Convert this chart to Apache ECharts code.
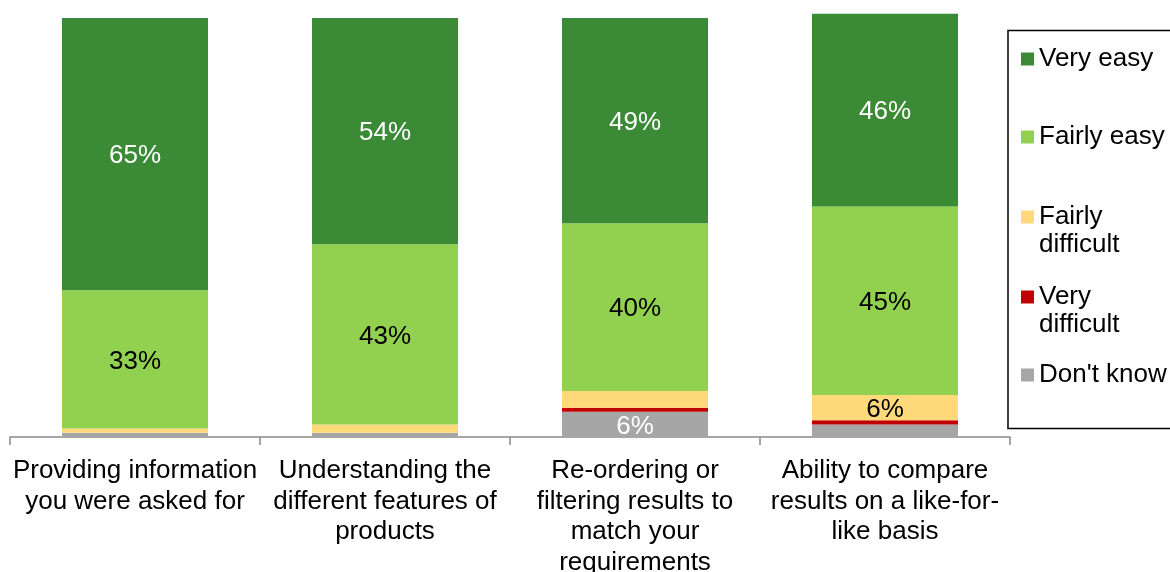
<!DOCTYPE html>
<html>
<head>
<meta charset="utf-8">
<script src="https://cdn.jsdelivr.net/npm/echarts@6/dist/echarts.min.js"></script>
<style>
html,body{margin:0;padding:0;background:#fff;}
#chart{width:1170px;height:572px;}
</style>
</head>
<body>
<div id="chart"></div>
<script>
var categories = [
  'Providing information\nyou were asked for',
  'Understanding the\ndifferent features of\nproducts',
  'Re-ordering or\nfiltering results to\nmatch your\nrequirements',
  'Ability to compare\nresults on a like-for-\nlike basis'
];
var dontKnow = [1, 1, 6, 3];
var veryDifficult = [0, 0, 1, 1];
var fairlyDifficult = [1, 2, 4, 6];
var fairlyEasy = [33, 43, 40, 45];
var veryEasy = [65, 54, 49, 46];

var seriesNames = ['Very easy', 'Fairly easy', 'Fairly difficult', 'Very difficult', "Don't know"];
var legendLabels = ['Very easy', 'Fairly easy', 'Fairly\ndifficult', 'Very\ndifficult', "Don't know"];

var FONT = "'Liberation Sans', Arial, sans-serif";
var colors = {
  'Very easy': '#3B8A36',
  'Fairly easy': '#92D050',
  'Fairly difficult': '#FFD97A',
  'Very difficult': '#C00000',
  "Don't know": '#A6A6A6'
};
var labelColors = {
  'Very easy': '#ffffff',
  'Fairly easy': '#000000',
  'Fairly difficult': '#000000',
  'Very difficult': '#ffffff',
  "Don't know": '#ffffff'
};

function mkSeries(name, data) {
  return {
    name: name,
    type: 'bar',
    stack: 'total',
    data: data,
    barWidth: '58.4%',
    clip: false,
    itemStyle: { color: colors[name] },
    label: {
      show: true,
      position: 'inside',
      offset: [0, 2],
      color: labelColors[name],
      fontFamily: FONT,
      fontSize: 26,
      formatter: function (p) { return p.value >= 5 ? p.value + '%' : ''; }
    },
    emphasis: { disabled: true }
  };
}

var legendTops = [45, 123, 175, 255, 361];
var legends = seriesNames.map(function (n, i) {
  var multi = legendLabels[i].indexOf('\n') >= 0;
  return {
    data: [n],
    orient: 'vertical',
    left: 1021,
    top: legendTops[i],
    padding: 0,
    itemWidth: 13,
    itemHeight: 13,
    itemGap: 0,
    icon: 'rect',
    selectedMode: false,
    formatter: function () { return multi ? '\n' + legendLabels[i] : legendLabels[i]; },
    textStyle: {
      fontFamily: FONT,
      fontSize: 26,
      lineHeight: 28,
      color: '#000'
    }
  };
});

var chart = echarts.init(document.getElementById('chart'), null, { renderer: 'canvas' });
chart.setOption({
  animation: false,
  backgroundColor: '#fff',
  grid: { left: 10, width: 1000, top: 18, height: 419, containLabel: false, outerBoundsMode: 'none' },
  legend: legends,
  graphic: [{
    type: 'rect',
    shape: { x: 1008, y: 30.5, width: 200, height: 398 },
    style: { fill: 'none', stroke: '#000', lineWidth: 1.5 },
    silent: true
  }],
  xAxis: {
    type: 'category',
    data: categories,
    axisLine: { lineStyle: { color: '#898989', width: 1.5 } },
    axisTick: { show: true, length: 8, lineStyle: { color: '#898989', width: 1.5 } },
    axisLabel: {
      interval: 0,
      margin: 19,
      color: '#000',
      fontFamily: FONT,
      fontSize: 26,
      lineHeight: 30.5,
      align: 'center'
    }
  },
  yAxis: {
    type: 'value',
    min: 0,
    max: 100,
    show: false,
    splitLine: { show: false }
  },
  series: [
    mkSeries("Don't know", dontKnow),
    mkSeries('Very difficult', veryDifficult),
    mkSeries('Fairly difficult', fairlyDifficult),
    mkSeries('Fairly easy', fairlyEasy),
    mkSeries('Very easy', veryEasy)
  ]
});
</script>
</body>
</html>
